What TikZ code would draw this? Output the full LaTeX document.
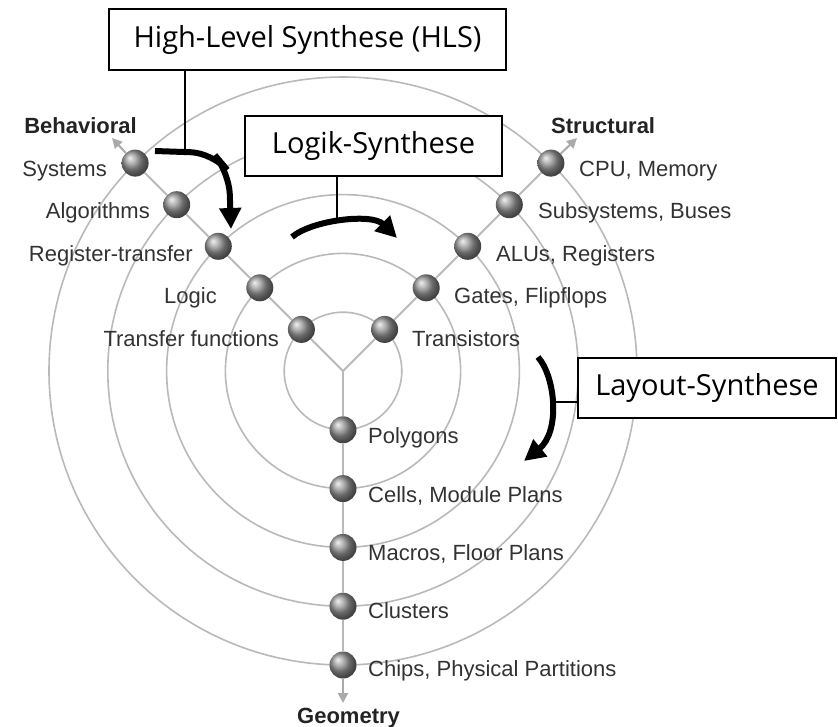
\documentclass[tikz,border=0pt]{standalone}
\usepackage{fontspec}
\setmainfont{Liberation Sans}
\newfontfamily\boxfont{Open Sans}
\usetikzlibrary{arrows.meta}
\definecolor{ringgray}{RGB}{185,185,185}
\definecolor{ballgray}{RGB}{150,150,150}
\definecolor{lblgray}{RGB}{50,50,50}
\definecolor{axisgray}{RGB}{35,35,35}
\definecolor{arrowgray}{RGB}{170,170,170}
\tikzset{
  ring/.style={draw=ringgray, line width=1.6pt},
  branch/.style={draw=ringgray, line width=2pt},
  ballnode/.style={circle, inner sep=0pt, minimum size=27pt, shading=ball, ball color=ballgray},
  lbl/.style={font=\fontsize{22}{26}\selectfont, text=lblgray, inner sep=0pt},
  axislbl/.style={font=\fontsize{22}{26}\selectfont\bfseries, text=axisgray, inner sep=0pt},
  synbox/.style={draw=black, line width=2pt, fill=white, font=\boxfont\fontsize{29}{34}\selectfont, inner sep=0pt},
  conn/.style={draw=black, line width=2pt},
  thickarrow/.style={draw=black, line width=6pt, -{Triangle[length=21pt,width=21pt]}},
  axisarrow/.style={draw=arrowgray, line width=2pt, -{Triangle[length=10pt,width=10pt]}},
}
\begin{document}
\begin{tikzpicture}[x=1pt,y=-1pt]
\useasboundingbox (0,0) rectangle (838,726);
\coordinate (C) at (343,371);
% rings
\foreach \r in {58.8,117.6,176.4,235.2,294} {
  \draw[ring] (C) circle[radius=\r pt];
}
% balls
\node[ballnode] (l1) at (301.4,329.4) {};
\node[ballnode] (l2) at (259.8,287.8) {};
\node[ballnode] (l3) at (218.3,246.3) {};
\node[ballnode] (l4) at (176.7,204.7) {};
\node[ballnode] (l5) at (135.1,163.1) {};
\node[ballnode] (r1) at (384.6,329.4) {};
\node[ballnode] (r2) at (426.2,287.8) {};
\node[ballnode] (r3) at (467.7,246.3) {};
\node[ballnode] (r4) at (509.3,204.7) {};
\node[ballnode] (r5) at (550.9,163.1) {};
\node[ballnode] (b1) at (343,429.8) {};
\node[ballnode] (b2) at (343,488.6) {};
\node[ballnode] (b3) at (343,547.4) {};
\node[ballnode] (b4) at (343,606.2) {};
\node[ballnode] (b5) at (343,665) {};
% branches
\draw[branch] (C) -- (l1) (l1) -- (l2) (l2) -- (l3) (l3) -- (l4) (l4) -- (l5);
\draw[branch] (C) -- (r1) (r1) -- (r2) (r2) -- (r3) (r3) -- (r4) (r4) -- (r5);
\draw[branch] (C) -- (b1) (b1) -- (b2) (b2) -- (b3) (b3) -- (b4) (b4) -- (b5);
% axis arrows
\coordinate (behtip) at (112,138);
\coordinate (strtip) at (577,138);
\coordinate (geotip) at (343,703);
\draw[axisarrow] (l5) -- (behtip);
\draw[axisarrow] (r5) -- (strtip);
\draw[axisarrow] (b5) -- (geotip);
% labels left
\node[axislbl, anchor=base east] (tbeh) at (137,133) {Behavioral};
\node[lbl, anchor=base east] (tsys) at (107,176) {Systems};
\node[lbl, anchor=base east] (talg) at (150,218) {Algorithms};
\node[lbl, anchor=base east] (trt) at (193,261) {Register-transfer};
\node[lbl, anchor=base east] (tlog) at (217,303) {Logic};
\node[lbl, anchor=base east] (ttf) at (279,346) {Transfer functions};
% labels right
\node[axislbl, anchor=base west] (tstr) at (551,133) {Structural};
\node[lbl, anchor=base west] (tcpu) at (579,176) {CPU, Memory};
\node[lbl, anchor=base west] (tsub) at (538,218) {Subsystems, Buses};
\node[lbl, anchor=base west] (talu) at (496,261) {ALUs, Registers};
\node[lbl, anchor=base west] (tgat) at (454,303) {Gates, Flipflops};
\node[lbl, anchor=base west] (ttr) at (412,346) {Transistors};
% labels bottom
\node[lbl, anchor=base west] (tpol) at (368,443) {Polygons};
\node[lbl, anchor=base west] (tcel) at (368,502) {Cells, Module Plans};
\node[lbl, anchor=base west] (tmac) at (368,560) {Macros, Floor Plans};
\node[lbl, anchor=base west] (tclu) at (368,618) {Clusters};
\node[lbl, anchor=base west] (tchi) at (368,676) {Chips, Physical Partitions};
\node[axislbl, anchor=base west] (tgeo) at (297,723) {Geometry};
% synthesis boxes
\node[synbox, minimum width=397pt, minimum height=61pt] (hls) at (307.5,39.5) {High-Level Synthese (HLS)};
\node[synbox, minimum width=257pt, minimum height=60pt] (logik) at (373.5,146) {Logik-Synthese};
\node[synbox, minimum width=258pt, minimum height=60pt] (layout) at (707,388) {Layout-Synthese};
% connectors
\coordinate (hlsj) at (185,152);
\coordinate (logj) at (337,222);
\coordinate (layj) at (552,402);
\draw[conn] (hls.south -| hlsj) -- (hlsj);
\draw[conn] (logik.south -| logj) -- (logj);
\draw[conn] (layout.west |- layj) -- (layj);
% thick arrows
\coordinate (hlsA) at (155,151);
\coordinate (hlsB) at (231,229);
\draw[thickarrow, rounded corners=22pt] (hlsA) -- (213,153) -- (229,172) -- (hlsB);
\coordinate (logA) at (292,237);
\coordinate (logB) at (397,238);
\draw[thickarrow] (logA) .. controls (312,220) and (372,213) .. (logB);
\coordinate (layA) at (538,357);
\coordinate (layB) at (524,461);
\draw[thickarrow] (layA) .. controls (556,378) and (560,432) .. (layB);
\end{tikzpicture}
\end{document}
